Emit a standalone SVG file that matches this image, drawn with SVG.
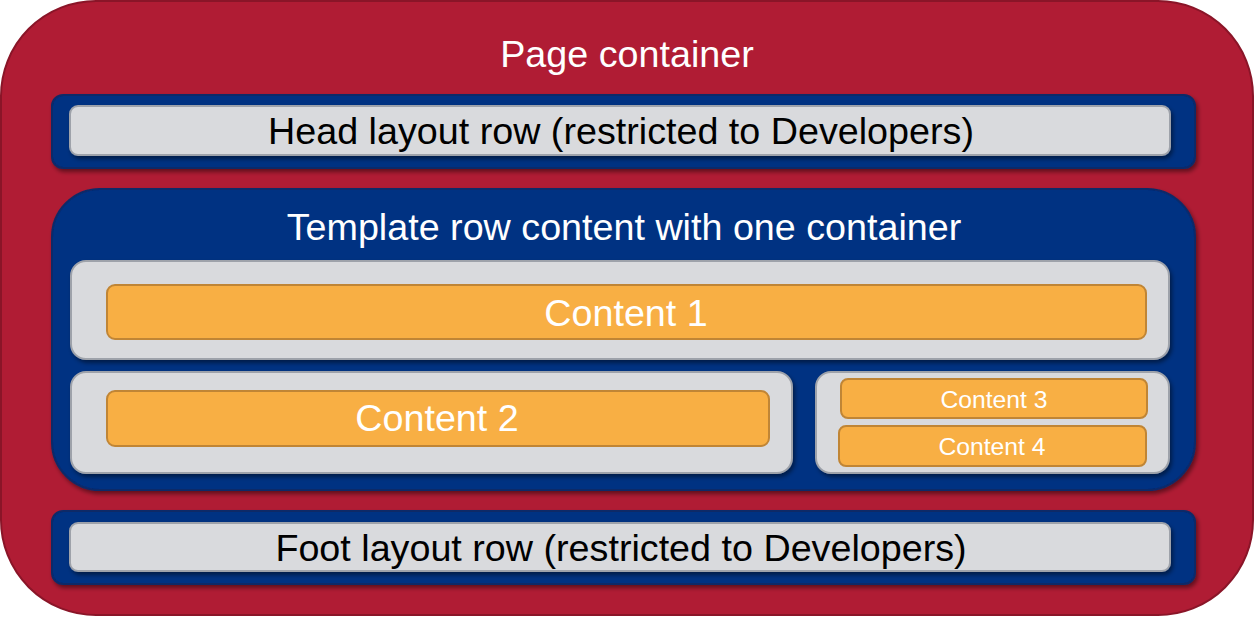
<svg xmlns="http://www.w3.org/2000/svg" width="1255" height="617" viewBox="0 0 1255 617">
  <defs>
    <filter id="shadow" x="-5%" y="-20%" width="110%" height="150%">
      <feDropShadow dx="2" dy="3" stdDeviation="2" flood-color="#000" flood-opacity="0.45"/>
    </filter>
  </defs>
  <style>
    .page { fill: #b01c34; stroke: #8a1528; stroke-width: 2; }
    .band { fill: #003082; stroke: #0c2a68; stroke-width: 2; filter: url(#shadow); }
    .row { fill: #d9dadd; stroke: #9ea2aa; stroke-width: 2; filter: url(#shadow); }
    .item { fill: #f8af44; stroke: #c08535; stroke-width: 2; }
    text { font-family: "Liberation Sans", Arial, sans-serif; text-anchor: middle; }
    .light { fill: #ffffff; font-size: 37.7px; }
    .dark { fill: #000000; font-size: 37.7px; }
    .small { fill: #ffffff; font-size: 24.7px; }
  </style>

  <g id="page-container">
    <rect class="page" x="1" y="1" width="1252" height="614" rx="95" ry="95"/>
    <text class="light" x="627" y="67">Page container</text>
  </g>

  <g id="head-row">
    <rect class="band" x="52" y="95" width="1143" height="73" rx="11" ry="11"/>
    <rect class="row" x="70" y="106" width="1100" height="49" rx="8" ry="8"/>
    <text class="dark" x="621" y="144">Head layout row (restricted to Developers)</text>
  </g>

  <g id="template-row">
    <rect class="band" x="52" y="189" width="1143" height="301" rx="48" ry="48"/>
    <text class="light" x="624" y="240">Template row content with one container</text>
  </g>

  <g id="content-1">
    <rect class="row" x="71" y="261" width="1098" height="98" rx="15" ry="15"/>
    <rect class="item" x="107" y="285" width="1039" height="54" rx="8" ry="8"/>
    <text class="light" x="626" y="326">Content 1</text>
  </g>

  <g id="content-2">
    <rect class="row" x="71" y="372" width="721" height="101" rx="15" ry="15"/>
    <rect class="item" x="107" y="391" width="662" height="55" rx="8" ry="8"/>
    <text class="light" x="437" y="431">Content 2</text>
  </g>

  <g id="content-3-4">
    <rect class="row" x="816" y="372" width="353" height="101" rx="15" ry="15"/>
    <rect class="item" x="841" y="379" width="306" height="39" rx="7" ry="7"/>
    <text class="small" x="994" y="408">Content 3</text>
    <rect class="item" x="839" y="426" width="307" height="40" rx="7" ry="7"/>
    <text class="small" x="992" y="455">Content 4</text>
  </g>

  <g id="foot-row">
    <rect class="band" x="52" y="511" width="1143" height="73" rx="11" ry="11"/>
    <rect class="row" x="70" y="523" width="1100" height="48" rx="8" ry="8"/>
    <text class="dark" x="621" y="561">Foot layout row (restricted to Developers)</text>
  </g>

  <g id="connectors"/>
</svg>
